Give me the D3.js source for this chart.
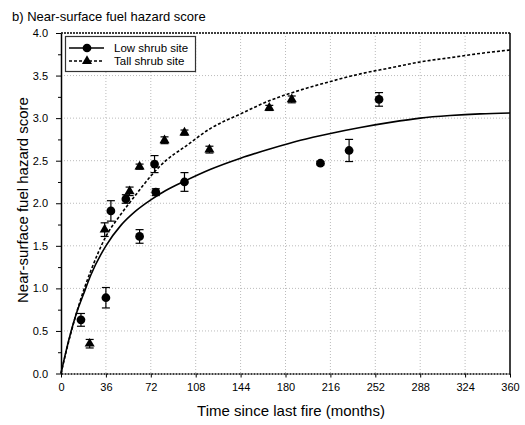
<!DOCTYPE html>
<html>
<head>
<meta charset="utf-8">
<title>Near-surface fuel hazard score</title>
<style>
body { margin: 0; background: #fff; }
text { font-family: "Liberation Sans", Arial, sans-serif; fill: #000; }
.grid line { stroke: #bbb; stroke-width: 1; stroke-dasharray: 1,2; }
.axis path, .axis line { stroke: #000; }
</style>
</head>
<body>
<script src="https://cdn.jsdelivr.net/npm/d3@7"></script>
<script>

// observed means (months since fire, score, standard error)
var lowMonths = [16, 36, 40, 52, 63, 75, 76, 99, 208, 231, 255];
var lowScore  = [0.63, 0.89, 1.91, 2.05, 1.61, 2.46, 2.13, 2.25, 2.47, 2.62, 3.22];
var lowErr    = [0.075, 0.12, 0.12, 0.05, 0.08, 0.10, 0.04, 0.11, 0.02, 0.13, 0.08];

var tallMonths = [23, 35, 55, 63, 83, 99, 119, 167, 185];
var tallScore  = [0.35, 1.69, 2.14, 2.43, 2.74, 2.83, 2.63, 3.12, 3.22];
var tallErr    = [0.05, 0.08, 0.05, 0.03, 0.04, 0.03, 0.04, 0.03, 0.04];

// fitted curves
var fitMonths = [0, 4, 8, 12, 18, 24, 36, 48, 60, 72, 84, 99, 120, 144, 168, 192, 216, 240, 264, 288, 312, 336, 360];
var lowFit  = [0, 0.26, 0.49, 0.69, 0.93, 1.16, 1.50, 1.74, 1.91, 2.04, 2.15, 2.26, 2.40, 2.53, 2.64, 2.74, 2.82, 2.89, 2.95, 3.00, 3.03, 3.05, 3.06];
var tallFit = [0, 0.25, 0.48, 0.69, 0.97, 1.21, 1.61, 1.87, 2.10, 2.32, 2.50, 2.66, 2.88, 3.05, 3.21, 3.33, 3.43, 3.52, 3.59, 3.66, 3.71, 3.76, 3.80];

var xTicks = [0, 36, 72, 108, 144, 180, 216, 252, 288, 324, 360];
var yTicks = [0, 0.5, 1.0, 1.5, 2.0, 2.5, 3.0, 3.5, 4.0];
var yMinor = d3.range(0.25, 4, 0.5);

var width = 525,
    height = 425,
    plotL = 61, plotR = 510, plotT = 33, plotB = 373.5;

var svg = d3.select("body").append("svg")
    .attr("width", width)
    .attr("height", height);

var x = d3.scaleLinear().domain([0, 360]).range([plotL, plotR]);
var y = d3.scaleLinear().domain([0, 4]).range([plotB, plotT]);

// grid
var grid = svg.append("g").attr("class", "grid");
grid.selectAll("line.gx")
    .data(xTicks.slice(1, -1))
    .enter().append("line")
    .attr("x1", function(d) { return x(d); })
    .attr("x2", function(d) { return x(d); })
    .attr("y1", plotT)
    .attr("y2", plotB);
grid.selectAll("line.gy")
    .data(yTicks.slice(1, -1))
    .enter().append("line")
    .attr("x1", plotL)
    .attr("x2", plotR)
    .attr("y1", function(d) { return y(d); })
    .attr("y2", function(d) { return y(d); });

// frame: dotted top, solid right
svg.append("line")
    .attr("x1", plotL).attr("x2", plotR)
    .attr("y1", plotT).attr("y2", plotT)
    .style("stroke", "#000").style("stroke-width", 1.5)
    .style("stroke-dasharray", "2,1");
svg.append("line")
    .attr("x1", plotR).attr("x2", plotR)
    .attr("y1", plotT).attr("y2", plotB)
    .style("stroke", "#000").style("stroke-width", 1.5);

// axes
var xAxis = svg.append("g")
    .attr("class", "axis")
    .attr("transform", "translate(0," + plotB + ")")
    .call(d3.axisBottom(x).tickValues(xTicks).tickSize(4).tickSizeOuter(0).tickPadding(6));
xAxis.select(".domain").style("stroke-dasharray", "2,1").style("stroke-width", 1.5);
xAxis.selectAll("text").style("font-size", "11px");

var yAxis = svg.append("g")
    .attr("class", "axis")
    .attr("transform", "translate(" + plotL + ",0)")
    .call(d3.axisLeft(y).tickValues(yTicks).tickFormat(d3.format(".1f")).tickSize(5).tickSizeOuter(0).tickPadding(8));
yAxis.select(".domain").style("stroke-width", 1.5);
yAxis.selectAll("text").style("font-size", "11px");

svg.append("g")
    .attr("class", "axis")
    .attr("transform", "translate(" + plotL + ",0)")
    .call(d3.axisLeft(y).tickValues(yMinor).tickFormat("").tickSize(3))
    .select(".domain").remove();

// fitted lines
var line = d3.line()
    .x(function(d) { return x(d[0]); })
    .y(function(d) { return y(d[1]); })
    .curve(d3.curveMonotoneX);

svg.append("path")
    .datum(d3.zip(fitMonths, lowFit))
    .attr("d", line)
    .style("fill", "none").style("stroke", "#000").style("stroke-width", 1.6);

svg.append("path")
    .datum(d3.zip(fitMonths, tallFit))
    .attr("d", line)
    .style("fill", "none").style("stroke", "#000").style("stroke-width", 1.6)
    .style("stroke-dasharray", "3,2");

// error bars
function errorBars(months, score, err) {
  var g = svg.append("g").style("stroke", "#000").style("stroke-width", 1.2);
  var data = d3.zip(months, score, err);
  g.selectAll("line.v").data(data).enter().append("line")
      .attr("x1", function(d) { return x(d[0]); })
      .attr("x2", function(d) { return x(d[0]); })
      .attr("y1", function(d) { return y(d[1] - d[2]); })
      .attr("y2", function(d) { return y(d[1] + d[2]); });
  [-1, 1].forEach(function(s) {
    g.selectAll("line.c" + s).data(data).enter().append("line")
        .attr("x1", function(d) { return x(d[0]) - 4; })
        .attr("x2", function(d) { return x(d[0]) + 4; })
        .attr("y1", function(d) { return y(d[1] + s * d[2]); })
        .attr("y2", function(d) { return y(d[1] + s * d[2]); });
  });
}
errorBars(lowMonths, lowScore, lowErr);
errorBars(tallMonths, tallScore, tallErr);

var circleSym = d3.symbol().type(d3.symbolCircle).size(60);
var triSym = d3.symbol().type(d3.symbolTriangle).size(44);

svg.append("g").selectAll("path")
    .data(d3.zip(lowMonths, lowScore))
    .enter().append("path")
    .attr("d", circleSym)
    .attr("transform", function(d) { return "translate(" + x(d[0]) + "," + y(d[1]) + ")"; })
    .style("fill", "#000");

svg.append("g").selectAll("path")
    .data(d3.zip(tallMonths, tallScore))
    .enter().append("path")
    .attr("d", triSym)
    .attr("transform", function(d) { return "translate(" + x(d[0]) + "," + y(d[1]) + ")"; })
    .style("fill", "#000");

// legend
var legend = svg.append("g");
legend.append("rect")
    .attr("x", 65.5).attr("y", 36.5)
    .attr("width", 130).attr("height", 35)
    .style("fill", "#fff").style("stroke", "#333").style("stroke-width", 1.2);
legend.append("line")
    .attr("x1", 69).attr("x2", 104).attr("y1", 48).attr("y2", 48)
    .style("stroke", "#000").style("stroke-width", 1.4);
legend.append("path")
    .attr("d", circleSym)
    .attr("transform", "translate(87,48)");
legend.append("line")
    .attr("x1", 69).attr("x2", 104).attr("y1", 61).attr("y2", 61)
    .style("stroke", "#000").style("stroke-width", 1.4)
    .style("stroke-dasharray", "3,2");
legend.append("path")
    .attr("d", triSym)
    .attr("transform", "translate(87,61)");
legend.append("text")
    .attr("x", 114).attr("y", 52)
    .style("font-size", "11.5px")
    .text("Low shrub site");
legend.append("text")
    .attr("x", 114).attr("y", 65)
    .style("font-size", "11.5px")
    .text("Tall shrub site");

// titles
svg.append("text")
    .attr("x", 12).attr("y", 20.5)
    .style("font-size", "13px")
    .text("b) Near-surface fuel hazard score");

svg.append("text")
    .attr("x", 291).attr("y", 416)
    .attr("text-anchor", "middle")
    .style("font-size", "15px")
    .text("Time since last fire (months)");

svg.append("text")
    .attr("transform", "translate(28,200) rotate(-90)")
    .attr("text-anchor", "middle")
    .style("font-size", "15px")
    .text("Near-surface fuel hazard score");

</script>
</body>
</html>
